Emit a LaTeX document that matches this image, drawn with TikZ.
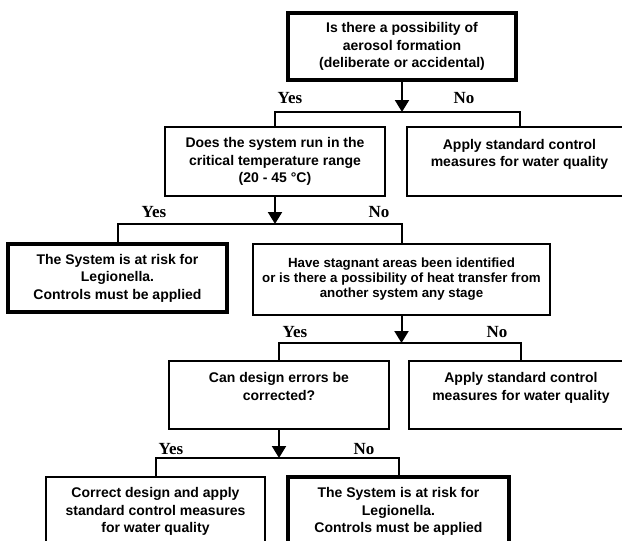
\documentclass[tikz,border=0pt]{standalone}
\usepackage{fontspec}
\setmainfont{Liberation Sans}
\newfontfamily\answerfont{Liberation Serif}
\usepackage{tikz}
\usetikzlibrary{arrows.meta}

\begin{document}
\begin{tikzpicture}[x=1pt,y=-1pt,>={Triangle[length=12pt,width=14pt]},
  font=\fontsize{14}{17.5}\selectfont\bfseries,
  box/.style={draw,line width=2pt,minimum height=68pt,align=center,inner sep=0pt},
  risk/.style={box,line width=3.5pt},
  ans/.style={font=\answerfont\fontsize{17}{18}\selectfont\bfseries},
  link/.style={line width=2pt}]
\useasboundingbox (0,0) rectangle (622,541);
\clip (0,0) rectangle (622,541);
% first question
\node[risk,minimum width=228pt,minimum height=67pt] (q1) at (402,46.5)
  {Is there a possibility of\\aerosol formation\\(deliberate or accidental)};
\node[box,minimum width=220pt,minimum height=69pt] (q2) at (275,161.5)
  {Does the system run in the\\critical temperature range\\(20 - 45 °C)};
\node[box,minimum width=225pt,minimum height=69pt] (std1) at (519.5,161.5)
  {Apply standard control\\measures for water quality\\\mbox{}};
% second level
\node[risk,minimum width=219pt] (risk1) at (117.5,278)
  {The System is at risk for\\Legionella.\\Controls must be applied};
\node[box,minimum width=297pt,minimum height=71pt,font=\fontsize{13.3}{15}\selectfont\bfseries] (q3) at (401.5,279.5)
  {Have stagnant areas been identified\\or is there a possibility of heat transfer from\\another system any stage};
% third level
\node[box,minimum width=220pt] (q4) at (279,395)
  {Can design errors be\\corrected?\\\mbox{}};
\node[box,minimum width=224pt] (std2) at (521,395)
  {Apply standard control\\measures for water quality\\\mbox{}};
% last level
\node[box,minimum width=219pt,minimum height=69pt] (fix) at (155.5,511.5)
  {Correct design and apply\\standard control measures\\for water quality};
\node[risk,minimum width=221pt,minimum height=69pt] (risk2) at (398.5,511.5)
  {The System is at risk for\\Legionella.\\Controls must be applied};
% junctions
\coordinate (j1) at (402,112);
\coordinate (j2) at (275,224);
\coordinate (j3) at (401.5,343);
\coordinate (j4) at (279,458);
% answers
\node[ans] (y1) at (290,98) {Yes};   \node[ans] (n1) at (464,98) {No};
\node[ans] (y2) at (154,212) {Yes};  \node[ans] (n2) at (379,212) {No};
\node[ans] (y3) at (295,332) {Yes};  \node[ans] (n3) at (497,332) {No};
\node[ans] (y4) at (171,449) {Yes};  \node[ans] (n4) at (364,449) {No};
% connectors
\draw[link,->] (q1.south) -- (j1);
\draw[link] (q2.north) -- (q2.north |- j1) -- (std1.north |- j1) -- (std1.north);
\draw[link,->] (q2.south) -- (j2);
\draw[link] (risk1.north) -- (risk1.north |- j2) -- (q3.north |- j2) -- (q3.north);
\draw[link,->] (q3.south) -- (j3);
\draw[link] (q4.north) -- (q4.north |- j3) -- (std2.north |- j3) -- (std2.north);
\draw[link,->] (q4.south) -- (j4);
\draw[link] (fix.north) -- (fix.north |- j4) -- (risk2.north |- j4) -- (risk2.north);
\end{tikzpicture}
\end{document}
